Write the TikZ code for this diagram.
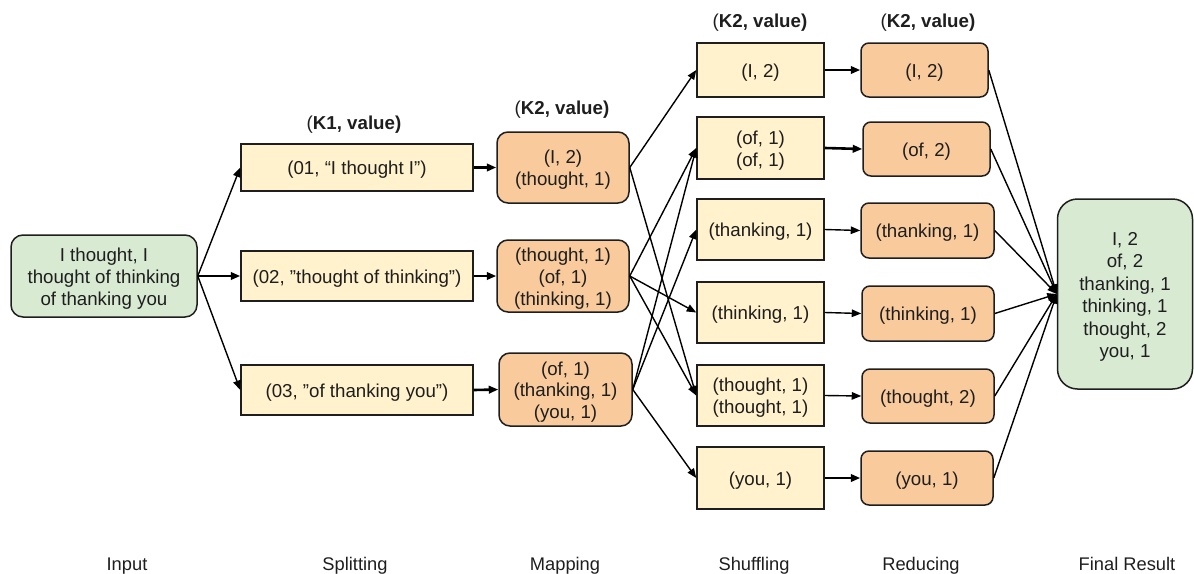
\documentclass[tikz,border=0pt]{standalone}
\usepackage{fontspec}
\setmainfont{Liberation Sans}
\usetikzlibrary{arrows.meta}
\definecolor{gfill}{HTML}{D9EAD3}
\definecolor{yfill}{HTML}{FFF2CC}
\definecolor{ofill}{HTML}{F9CB9C}
\definecolor{ink}{HTML}{1E1E1E}
\newcommand\T[1]{\raisebox{-3pt}[\height][\depth]{\begin{tabular}{@{}c@{}}#1\end{tabular}}}
\begin{document}
\begin{tikzpicture}[x=1pt,y=-1pt,
  every node/.style={font=\fontsize{18.7}{21.8}\selectfont, text=ink, inner sep=0pt, align=center},
  base/.style={draw=ink, line width=1.5pt},
  inbox/.style={base, fill=gfill, rounded corners=12pt},
  ybox/.style={base, fill=yfill},
  obox/.style={base, fill=ofill, rounded corners=11pt},
  rbox/.style={base, fill=ofill, rounded corners=8pt},
  arr/.style={-{Triangle[length=9.5pt,width=7.5pt]}, line width=1.4pt, draw=black},
  tarr/.style={-{Triangle[length=9.5pt,width=7.5pt]}, line width=2.6pt, draw=black},
  hdr/.style={font=\fontsize{18.7}{21.8}\selectfont},
  lbl/.style={font=\fontsize{18.3}{21}\selectfont}
]
\useasboundingbox (0,0) rectangle (1194,573);

% headers
\node[hdr] (h1) at (354,122) {\T{(\textbf{K1, value)}}};
\node[hdr] (h2) at (562,107) {\T{(\textbf{K2, value)}}};
\node[hdr] (h3) at (760,20) {\T{(\textbf{K2, value)}}};
\node[hdr] (h4) at (928,20) {\T{(\textbf{K2, value)}}};

% input
\node[inbox, minimum width=186pt, minimum height=82pt] (in) at (104,276) {\T{I thought, I\\thought of thinking\\of thanking you}};

% splitting
\node[ybox, minimum width=232pt, minimum height=47pt] (s1) at (357,167.5) {\T{(01, “I thought I”)}};
\node[ybox, minimum width=232pt, minimum height=50pt] (s2) at (357,276) {\T{(02, ”thought of thinking”)}};
\node[ybox, minimum width=232pt, minimum height=50pt] (s3) at (357,390) {\T{(03, ”of thanking you”)}};

% mapping
\node[obox, minimum width=132pt, minimum height=71pt] (m1) at (563,167.5) {\T{(I, 2)\\(thought, 1)}};
\node[obox, minimum width=132pt, minimum height=72pt] (m2) at (563,276) {\T{(thought, 1)\\(of, 1)\\(thinking, 1)}};
\node[obox, minimum width=133pt, minimum height=73pt] (m3) at (565.5,389.5) {\T{(of, 1)\\(thanking, 1)\\(you, 1)}};

% shuffling
\node[ybox, minimum width=127pt, minimum height=54pt] (sh1) at (760.5,70) {\T{(I, 2)}};
\node[ybox, minimum width=127pt, minimum height=62pt] (sh2) at (760.5,148) {\T{(of, 1)\\(of, 1)}};
\node[ybox, minimum width=127pt, minimum height=61pt] (sh3) at (760.5,229.5) {\T{(thanking, 1)}};
\node[ybox, minimum width=127pt, minimum height=61pt] (sh4) at (760.5,312.5) {\T{(thinking, 1)}};
\node[ybox, minimum width=127pt, minimum height=61pt] (sh5) at (760.5,395.5) {\T{(thought, 1)\\(thought, 1)}};
\node[ybox, minimum width=127pt, minimum height=62pt] (sh6) at (760.5,478) {\T{(you, 1)}};

% reducing
\node[rbox, minimum width=127pt, minimum height=54pt] (r1) at (924.5,70) {\T{(I, 2)}};
\node[rbox, minimum width=127pt, minimum height=54pt] (r2) at (926.5,149) {\T{(of, 2)}};
\node[rbox, minimum width=133pt, minimum height=55pt] (r3) at (927.5,230.5) {\T{(thanking, 1)}};
\node[rbox, minimum width=132pt, minimum height=55pt] (r4) at (928,313.5) {\T{(thinking, 1)}};
\node[rbox, minimum width=132pt, minimum height=54pt] (r5) at (928,396) {\T{(thought, 2)}};
\node[rbox, minimum width=132pt, minimum height=54pt] (r6) at (927,478) {\T{(you, 1)}};

% final
\node[base, fill=gfill, rounded corners=20pt, minimum width=135pt, minimum height=190pt,
  font=\fontsize{18.7}{22.4}\selectfont] (fin) at (1125,294) {\T{I, 2\\of, 2\\thanking, 1\\thinking, 1\\thought, 2\\you, 1}};

% bottom labels
\node[lbl] (l1) at (127,563) {\T{Input}};
\node[lbl] (l2) at (355,563) {\T{Splitting}};
\node[lbl] (l3) at (565,563) {\T{Mapping}};
\node[lbl] (l4) at (754,563) {\T{Shuffling}};
\node[lbl] (l5) at (921,563) {\T{Reducing}};
\node[lbl] (l6) at (1127,563) {\T{Final Result}};

% input -> split
\draw[arr] (in.east) -- (s1.west);
\draw[tarr] (in.east) -- (s2.west);
\draw[arr] (in.east) -- (s3.west);

% split -> map
\draw[tarr] (s1.east) -- (m1.west);
\draw[tarr] (s2.east) -- (m2.west);
\draw[tarr] (s3.east) -- (m3.west);

% map -> shuffle
\draw[arr] (m1.east) -- (sh1.west);
\draw[arr] (m1.east) -- (sh5.west);
\draw[arr] (m2.east) -- (sh2.west);
\draw[arr] (m2.east) -- (sh4.west);
\draw[arr] (m2.east) -- (sh5.west);
\draw[arr] (m3.east) -- (sh2.west);
\draw[arr] (m3.east) -- (sh3.west);
\draw[arr] (m3.east) -- (sh6.west);

% shuffle -> reduce
\draw[tarr] (sh1.east) -- (r1.west);
\draw[tarr] (sh2.east) -- (r2.west);
\draw[arr] (sh3.east) -- (r3.west);
\draw[arr] (sh4.east) -- (r4.west);
\draw[arr] (sh5.east) -- (r5.west);
\draw[tarr] (sh6.east) -- (r6.west);

% reduce -> final
\draw[arr] (r1.east) -- (fin.west);
\draw[arr] (r2.east) -- (fin.west);
\draw[arr] (r3.east) -- (fin.west);
\draw[arr] (r4.east) -- (fin.west);
\draw[arr] (r5.east) -- (fin.west);
\draw[arr] (r6.east) -- (fin.west);
\end{tikzpicture}
\end{document}
